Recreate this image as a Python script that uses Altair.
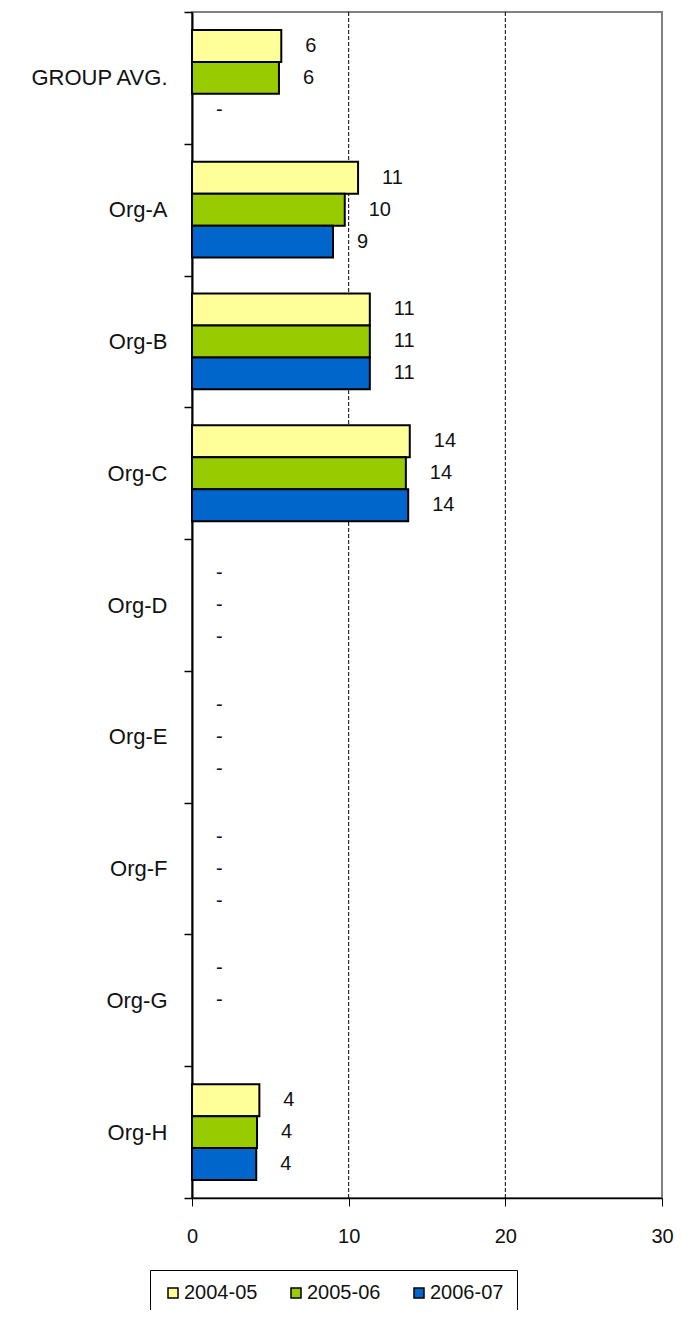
import altair as alt
import pandas as pd

categories = ["GROUP AVG.", "Org-A", "Org-B", "Org-C", "Org-D", "Org-E", "Org-F", "Org-G", "Org-H"]
series = ["2004-05", "2005-06", "2006-07"]
values_2004_05 = [5.7, 10.6, 11.35, 13.9, None, None, None, None, 4.3]
values_2005_06 = [5.55, 9.75, 11.35, 13.65, None, None, None, None, 4.15]
values_2006_07 = [None, 9.0, 11.35, 13.8, None, None, None, None, 4.1]
colors = ["#FFFF99", "#99CC00", "#0066CC"]
x_ticks = [0, 10, 20, 30]
grid_values = [10, 20]
unlabelled = [("Org-G", "2006-07")]

FONT = "Liberation Sans"

rows = []
for s, vals in zip(series, [values_2004_05, values_2005_06, values_2006_07]):
    for c, v in zip(categories, vals):
        if (c, s) in unlabelled:
            label = ""
        elif v is None:
            label = "-"
        else:
            label = str(int(round(v)))
        rows.append({"category": c, "series": s, "value": v,
                     "pos": v if v is not None else 0, "label": label})
df = pd.DataFrame(rows)

y_enc = alt.Y("category:N", sort=categories,
              scale=alt.Scale(paddingInner=0, paddingOuter=0),
              axis=alt.Axis(title=None, tickBand="extent", tickSize=8, tickColor="black",
                            tickWidth=1.5, domainColor="black", domainWidth=2,
                            labelFont=FONT, labelFontSize=22, labelColor="#111",
                            labelPadding=17, grid=False))
yoff_scale = alt.Scale(paddingInner=0, paddingOuter=0.5625)
x_scale = alt.Scale(domain=[0, 30], nice=False, zero=True)

grid = alt.Chart(pd.DataFrame({"g": grid_values})).mark_rule(
    color="black", strokeDash=[4, 2], strokeWidth=1
).encode(x=alt.X("g:Q", scale=x_scale))

bars = alt.Chart(df).mark_bar(stroke="black", strokeWidth=2).encode(
    x=alt.X("value:Q", scale=x_scale,
            axis=alt.Axis(title=None, values=x_ticks, tickSize=8, tickColor="black",
                          domainColor="black", domainWidth=1.5, grid=False,
                          labelFlush=False,
                          labelFont=FONT, labelFontSize=20, labelColor="#111",
                          labelPadding=20)),
    y=y_enc,
    yOffset=alt.YOffset("series:N", sort=series, scale=yoff_scale),
    color=alt.Color("series:N", sort=series,
                    scale=alt.Scale(domain=series, range=colors),
                    legend=alt.Legend(title=None, orient="none", legendX=-42, legendY=1258,
                                      direction="horizontal", symbolType="square",
                                      symbolSize=100, symbolStrokeColor="black",
                                      symbolStrokeWidth=1.5, symbolOpacity=1,
                                      labelFont=FONT, labelFontSize=20, labelColor="#111",
                                      labelOffset=1, columnPadding=28, padding=13,
                                      strokeColor="black", fillColor="white")),
)

labels = alt.Chart(df).mark_text(
    align="left", baseline="middle", dx=24, font=FONT, fontSize=20, color="#111"
).encode(
    x=alt.X("pos:Q", scale=x_scale),
    y=alt.Y("category:N", sort=categories),
    yOffset=alt.YOffset("series:N", sort=series, scale=yoff_scale),
    text="label:N",
)

chart = alt.layer(grid, bars, labels).properties(
    width=470, height=1186,
    autosize=alt.AutoSizeParams(type="none"),
    padding={"left": 184, "top": 4, "right": 13, "bottom": 112},
).configure_view(stroke="#808080", strokeWidth=2)

chart.save("out.html", embed_options={"renderer": "svg", "actions": False})
